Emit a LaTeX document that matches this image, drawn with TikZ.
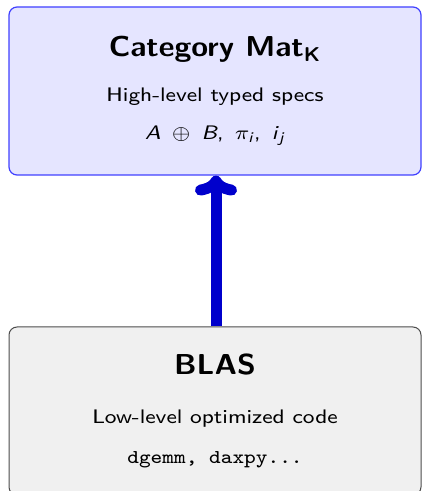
\documentclass[tikz,border=0pt]{standalone}
\usepackage{amsmath}
\usetikzlibrary{arrows.meta}
\renewcommand{\familydefault}{\sfdefault}
\newcommand{\opgap}{\ \hspace{1.3pt}}
\tikzset{
  x=1pt, y=1pt,
  layer/.style={rounded corners=8pt, minimum width=412pt, minimum height=168pt, inner sep=0pt},
  highbox/.style={layer, draw=blue!75, fill=blue!10, line width=1.2pt},
  lowbox/.style={layer, draw=black!70, fill=gray!12, line width=1pt},
  titletext/.style={anchor=base, xscale=2.13, yscale=2.0, transform shape, font=\Large\bfseries},
  bodytext/.style={anchor=base, xscale=2.75, yscale=2.45, transform shape, font=\fontsize{8}{10}\selectfont},
  liftarrow/.style={draw=blue!80!black, line width=11pt, -{To[length=20pt, width=42pt, line cap=round]}},
}
\begin{document}
\begin{tikzpicture}
  \useasboundingbox (0,0) rectangle (422,491);
  \begin{scope}
    \clip (0,0) rectangle (422,491);
    % the two abstraction layers
    \node[highbox] (cat) at (215,400) {};
    \node[lowbox] (blas) at (215,80) {};
    % typed layer text
    \node[titletext] (cattitle) at (215,434) {Category Mat$_{\textbf{K}}$};
    \node[bodytext] (catdesc) at (215,389) {High-level typed specs};
    \node[bodytext] (catops) at (215,351)
      {\textit{A}\opgap$\oplus$\opgap\textit{B},\opgap$\pi_{\textit{i}}$,\opgap\textit{i}$_{\textit{j}}$};
    % implementation layer text
    \node[titletext] (blastitle) at (215,116) {BLAS};
    \node[bodytext] (blasdesc) at (215,68) {Low-level optimized code};
    \node[bodytext] (blasops) at (215,28) {\texttt{dgemm, daxpy...}};
    % abstraction arrow
    \draw[liftarrow] ([xshift=1pt]blas.north) -- ([xshift=1pt]cat.south);
  \end{scope}
\end{tikzpicture}
\end{document}
